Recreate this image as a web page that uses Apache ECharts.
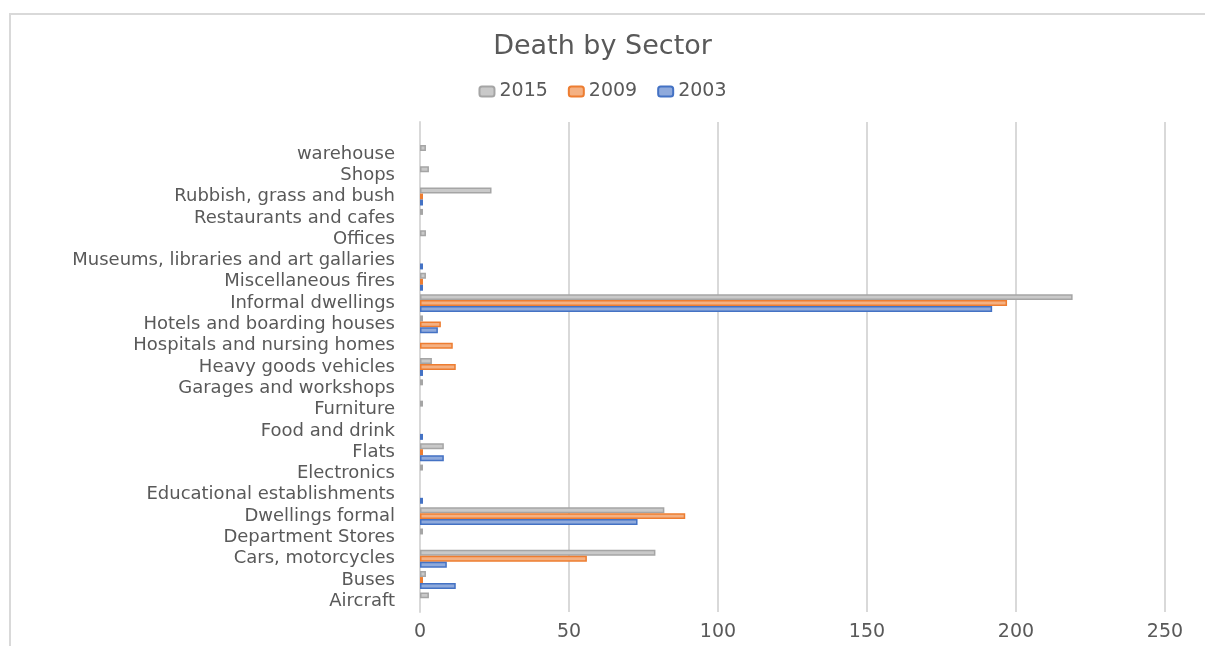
<!DOCTYPE html>
<html>
<head>
<meta charset="utf-8">
<title>Death by Sector</title>
<script src="https://cdn.jsdelivr.net/npm/echarts@6/dist/echarts.min.js"></script>
<style>
  html, body { margin: 0; padding: 0; background: #fff; }
  #chart { width: 1205px; height: 646px; }
  .frame { position: absolute; left: 9px; top: 13px; width: 1200px; height: 640px;
           border-left: 2px solid #d9d9d9; border-top: 2px solid #d9d9d9; pointer-events: none; }
</style>
</head>
<body>
<div id="chart"></div>
<div class="frame"></div>
<script>
// bottom to top, like the category axis draws them
const sectors = ['Aircraft', 'Buses', 'Cars, motorcycles', 'Department Stores', 'Dwellings formal',
  'Educational establishments', 'Electronics', 'Flats', 'Food and drink', 'Furniture',
  'Garages and workshops', 'Heavy goods vehicles', 'Hospitals and nursing homes',
  'Hotels and boarding houses', 'Informal dwellings', 'Miscellaneous fires',
  'Museums, libraries and art gallaries', 'Offices', 'Restaurants and cafes',
  'Rubbish, grass and bush', 'Shops', 'warehouse']
const deaths2015 = [3, 2, 79, 1, 82, 0, 1, 8, 0, 1, 1, 4, 0, 1, 219, 2, 0, 2, 1, 24, 3, 2]
const deaths2009 = [0, 1, 56, 0, 89, 0, 0, 1, 0, 0, 0, 12, 11, 7, 197, 1, 0, 0, 0, 1, 0, 0]
const deaths2003 = [0, 12, 9, 0, 73, 1, 0, 8, 1, 0, 0, 1, 0, 6, 192, 1, 1, 0, 0, 1, 0, 0]
const xTicks = [0, 50, 100, 150, 200, 250]

const font = 'DejaVu Sans'
const textColor = '#595959'

// zero rows have no bar in the original
const noZero = arr => arr.map(v => v === 0 ? '-' : v)

const barSeries = (name, data, fill, line) => ({
  name: name,
  type: 'bar',
  data: noZero(data),
  barGap: '0%',
  barCategoryGap: '16%',
  itemStyle: { color: fill, borderColor: line, borderWidth: 1.5 }
})

const chart = echarts.init(document.getElementById('chart'))
chart.setOption({
  backgroundColor: '#fff',
  animation: false,
  title: {
    text: 'Death by Sector',
    left: 'center',
    top: 28,
    textStyle: { fontFamily: font, fontSize: 27, fontWeight: 'normal', color: textColor }
  },
  legend: {
    top: 77,
    left: 'center',
    itemWidth: 15,
    itemHeight: 10,
    itemGap: 20,
    textStyle: { fontFamily: font, fontSize: 19, color: textColor }
  },
  grid: { left: 420, right: 40, top: 122, bottom: 34 },
  xAxis: {
    type: 'value',
    min: xTicks[0],
    max: xTicks[xTicks.length - 1],
    interval: xTicks[1] - xTicks[0],
    axisLine: { show: false },
    axisTick: { show: false },
    axisLabel: { fontFamily: font, fontSize: 19, color: textColor, margin: 11 },
    splitLine: { lineStyle: { color: '#d9d9d9', width: 2 } }
  },
  yAxis: {
    type: 'category',
    data: sectors,
    max: sectors.length,
    axisLine: { lineStyle: { color: '#d9d9d9', width: 2 } },
    axisTick: { show: false },
    axisLabel: {
      interval: 0,
      hideOverlap: false,
      fontFamily: font, fontSize: 18, color: textColor, margin: 25,
      formatter: v => v || ''
    }
  },
  series: [
    barSeries('2015', deaths2015, '#c9c9c9', '#a5a5a5'),
    barSeries('2009', deaths2009, '#f4b183', '#ed7d31'),
    barSeries('2003', deaths2003, '#8faadc', '#4472c4')
  ]
})
</script>
</body>
</html>
